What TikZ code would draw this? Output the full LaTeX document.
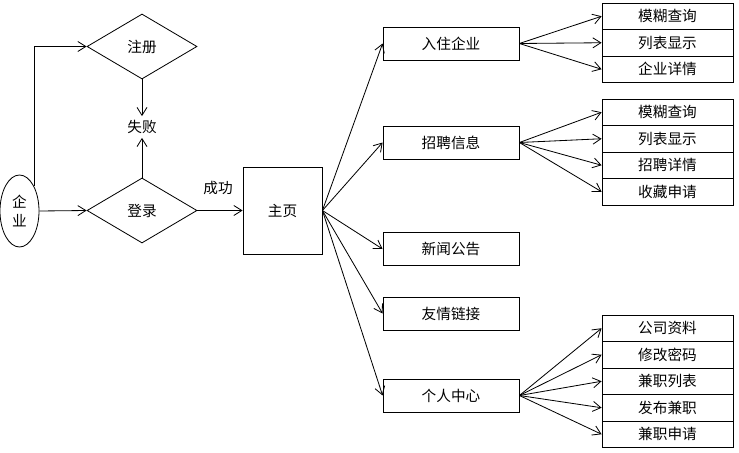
\documentclass[tikz,border=0pt]{standalone}
\usepackage{fontspec}
\setmainfont{Noto Sans CJK SC}
\usetikzlibrary{shapes.geometric,arrows.meta}

\begin{document}
\begin{tikzpicture}[x=0.03cm,y=-0.03cm,
  every node/.style={text=black,font=\fontsize{12.5}{15.6}\selectfont},
  box/.style={draw=black,line width=0.7pt,minimum width=4.08cm,minimum height=0.99cm,inner sep=0pt},
  item/.style={draw=black,line width=0.7pt,minimum width=3.93cm,minimum height=0.795cm,inner sep=0pt},
  choice/.style={draw=black,diamond,line width=0.7pt,minimum width=3.3cm,minimum height=1.95cm,inner sep=0pt},
  link/.style={draw=black,line width=0.7pt,-{Straight Barb[length=2.4mm,width=3mm]}}]

\useasboundingbox (0,0) rectangle (739,452);

% left part:
\node[draw=black,ellipse,line width=0.7pt,minimum width=1.17cm,minimum height=2.16cm,inner sep=1pt,align=center] (ent) at (19.5,211) {企\\业};
\node[choice] (reg) at (142,46.5) {注册};
\node[choice] (login) at (142,210.5) {登录};
\node (fail) at (142,127) {失败};
\node (ok) at (218,188) {成功};
\node[draw=black,line width=0.7pt,minimum width=2.37cm,minimum height=2.61cm,inner sep=0pt] (home) at (282.5,210.5) {主页};

% middle column:
\node[box] (settle) at (451,43.5) {入住企业};
\node[box] (recruit) at (451,142.5) {招聘信息};
\node[box] (news) at (451,249) {新闻公告};
\node[box] (links) at (451,313.5) {友情链接};
\node[box] (center) at (451,395.5) {个人中心};

% right column:
\node[item] (s1) at (667.5,16.25) {模糊查询};
\node[item] (s2) at (667.5,42.75) {列表显示};
\node[item] (s3) at (667.5,69.25) {企业详情};
\node[item] (r1) at (667.5,112.25) {模糊查询};
\node[item] (r2) at (667.5,138.75) {列表显示};
\node[item] (r3) at (667.5,165.25) {招聘详情};
\node[item] (r4) at (667.5,191.75) {收藏申请};
\node[item] (c1) at (667.5,328.25) {公司资料};
\node[item] (c2) at (667.5,354.75) {修改密码};
\node[item] (c3) at (667.5,381.25) {兼职列表};
\node[item] (c4) at (667.5,407.75) {发布兼职};
\node[item] (c5) at (667.5,434.25) {兼职申请};

% connectors:
\draw[link] (ent.60) |- (reg.west);
\draw[link] (ent.east) -- (login.west);
\draw[link] (reg.south) -- (fail.north);
\draw[link] (login.north) -- (fail.south);
\draw[link] (login.east) -- (home.west);
\draw[link] (home.east) -- (settle.west);
\draw[link] (home.east) -- (recruit.west);
\draw[link] (home.east) -- (news.west);
\draw[link] (home.east) -- (links.west);
\draw[link] (home.east) -- (center.west);
\draw[link] (settle.east) -- (s1.west);
\draw[link] (settle.east) -- (s2.west);
\draw[link] (settle.east) -- (s3.west);
\draw[link] (recruit.east) -- (r1.west);
\draw[link] (recruit.east) -- (r2.west);
\draw[link] (recruit.east) -- (r3.west);
\draw[link] (recruit.east) -- (r4.west);
\draw[link] (center.east) -- (c1.west);
\draw[link] (center.east) -- (c2.west);
\draw[link] (center.east) -- (c3.west);
\draw[link] (center.east) -- (c4.west);
\draw[link] (center.east) -- (c5.west);

\end{tikzpicture}
\end{document}
